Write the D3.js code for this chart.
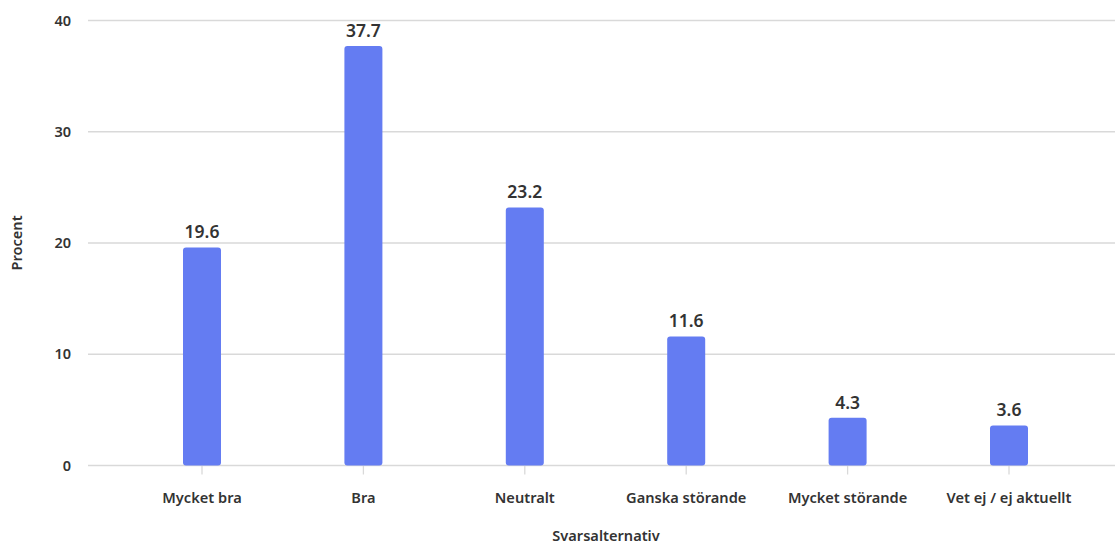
<!DOCTYPE html>
<html><head><meta charset="utf-8">
<script src="https://cdn.jsdelivr.net/npm/d3@7"></script>
<style>body{margin:0;background:#fff;}svg{display:block;font-family:"Noto Sans","Open Sans",sans-serif;}</style>
</head><body>
<svg id="c" width="1115" height="546"></svg>
<script>
const categories = ["Mycket bra","Bra","Neutralt","Ganska störande","Mycket störande","Vet ej / ej aktuellt"];
const values = [19.6, 37.7, 23.2, 11.6, 4.3, 3.6];
const yTicks = [0,10,20,30,40];

const svg = d3.select("#c");
const x = d3.scaleBand().domain(categories).range([121.3, 1089.7]);
const y = d3.scaleLinear().domain([0,40]).range([465.5, 20.5]);
const barW = 38;

// gridlines
svg.append("g").selectAll("line").data(yTicks).join("line")
  .attr("x1",88).attr("x2",1115).attr("y1",d=>y(d)).attr("y2",d=>y(d))
  .attr("stroke","#d9d9d9").attr("stroke-width",1.3);
// y tick labels
svg.append("g").selectAll("text").data(yTicks).join("text")
  .attr("x",71).attr("y",d=>y(d)).attr("dy","0.35em").attr("text-anchor","end")
  .attr("font-size",14.5).attr("font-weight",600).attr("fill","#333").text(d=>d);
// x ticks
svg.append("g").selectAll("line").data(categories).join("line")
  .attr("x1",d=>x(d)+x.bandwidth()/2).attr("x2",d=>x(d)+x.bandwidth()/2)
  .attr("y1",y(0)).attr("y2",y(0)+9).attr("stroke","#d9d9d9").attr("stroke-width",1.3);
// bars
svg.append("g").selectAll("rect").data(values).join("rect")
  .attr("x",(d,i)=>x(categories[i])+x.bandwidth()/2-barW/2)
  .attr("y",d=>y(d)).attr("width",barW).attr("height",d=>y(0)-y(d))
  .attr("rx",3).attr("fill","#647cf2");
// value labels
svg.append("g").selectAll("text").data(values).join("text")
  .attr("x",(d,i)=>x(categories[i])+x.bandwidth()/2).attr("y",d=>y(d)-9)
  .attr("text-anchor","middle").attr("font-size",17.5).attr("font-weight",600).attr("fill","#333")
  .text(d=>d.toFixed(1));
// x labels
svg.append("g").selectAll("text").data(categories).join("text")
  .attr("x",d=>x(d)+x.bandwidth()/2).attr("y",503)
  .attr("text-anchor","middle").attr("font-size",14.6).attr("font-weight",600).attr("fill","#333").text(d=>d);
// axis titles
svg.append("text").attr("x",606).attr("y",541).attr("text-anchor","middle")
  .attr("font-size",14.6).attr("font-weight",600).attr("fill","#333").text("Svarsalternativ");
svg.append("text").attr("transform","translate(22,243) rotate(-90)").attr("text-anchor","middle")
  .attr("font-size",14.6).attr("font-weight",600).attr("fill","#333").text("Procent");
</script>
</body></html>
